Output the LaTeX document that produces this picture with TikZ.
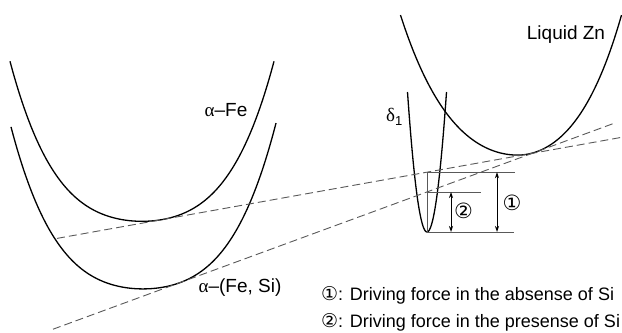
\documentclass[tikz,border=0pt]{standalone}
\usepackage{fontspec}
\setmainfont{Liberation Sans}
\newfontfamily\symfont{DejaVu Sans}
\newfontfamily\grkfont{Liberation Serif}
\usetikzlibrary{arrows.meta}
\begin{document}
\begin{tikzpicture}[x=1bp,y=-1bp,
  curve/.style={line width=1.3bp,black},
  tangent/.style={line width=0.9bp,gray!70!black,dash pattern=on 8bp off 4bp},
  guide/.style={line width=0.8bp,gray!70!black},
  dim/.style={line width=0.8bp,black,{Stealth[length=6bp,width=4bp]}-{Stealth[length=6bp,width=4bp]}},
  lbl/.style={inner sep=0pt,font=\fontsize{19bp}{22bp}\selectfont},
  leg/.style={inner sep=0pt,font=\fontsize{18bp}{21bp}\selectfont},
  circ/.style={inner sep=0pt,font=\fontsize{21bp}{24bp}\symfont}]
\useasboundingbox (0,0) rectangle (622,332);
% alpha-Fe
\draw[curve] plot[domain=-132:132,samples=121,smooth]
  ({142+\x},{221.3-160*(0.45*(\x/132)*(\x/132)+0.55*(\x/132)*(\x/132)*(\x/132)*(\x/132))});
% alpha-(Fe,Si)
\draw[curve] plot[domain=-132:133,samples=121,smooth]
  ({143+\x},{288.9-162*(0.45*(\x/132)*(\x/132)+0.55*(\x/132)*(\x/132)*(\x/132)*(\x/132))});
% Liquid Zn (left and right halves)
\draw[curve] plot[domain=-117:0,samples=61,smooth]
  ({517.5+\x},{155.07-140*(0.7*(\x/117)*(\x/117)+0.3*(\x/117)*(\x/117)*(\x/117)*(\x/117))})
  -- plot[domain=0:104,samples=61,smooth]
  ({517.5+\x},{155.07-140*(0.7*(\x/104)*(\x/104)+0.3*(\x/104)*(\x/104)*(\x/104)*(\x/104))});
% delta1
\draw[curve] plot[domain=-19.5:19.5,samples=61,smooth]
  ({427+\x},{232-140*(\x/19.5)*(\x/19.5)});
% tangent lines
\coordinate (l1a) at (57,238.4);
\coordinate (l1b) at (622,137.25);
\coordinate (l2a) at (53,329.2);
\coordinate (l2b) at (614,123.3);
\draw[tangent] (l1a) -- (l1b);
\draw[tangent] (l2a) -- (l2b);
% guide lines at delta1
\coordinate (dmin) at (427,232);
\coordinate (top) at (427,172.2);
\coordinate (mid) at (427,192);
\coordinate (topR) at (515,172.2);
\coordinate (midR) at (481,192);
\coordinate (botR) at (514,232);
\draw[guide] (top) -- (topR);
\draw[guide] (mid) -- (midR);
\draw[guide] (dmin) -- (botR);
\draw[guide] (top) -- (dmin);
% dimension arrows
\coordinate (a2t) at (451,192);
\coordinate (a2b) at (451,232);
\coordinate (a1t) at (497,172.2);
\coordinate (a1b) at (497,232);
\draw[dim] (a2t) -- (a2b);
\draw[dim] (a1t) -- (a1b);
\node[circ] (c2) at (463.5,211) {②};
\node[circ] (c1) at (512,203) {①};
% labels
\node[lbl] (fe) at (226,110) {{\grkfont α}–Fe};
\node[lbl] (fesi) at (240,288) {{\grkfont α}–(Fe, Si)};
\node[lbl] (liq) at (566,35) {Liquid Zn};
\node[lbl,anchor=base west] (del) at (386,121) {{\grkfont δ}\raisebox{-4bp}{\fontsize{13bp}{15bp}\selectfont 1}};
% legend
\node[leg,anchor=west] (leg1) at (321,295) {{\symfont\fontsize{19bp}{21bp}\selectfont ①}: Driving force in the absense of Si};
\node[leg,anchor=west] (leg2) at (321,322) {{\symfont\fontsize{19bp}{21bp}\selectfont ②}: Driving force in the presense of Si};
\end{tikzpicture}
\end{document}
